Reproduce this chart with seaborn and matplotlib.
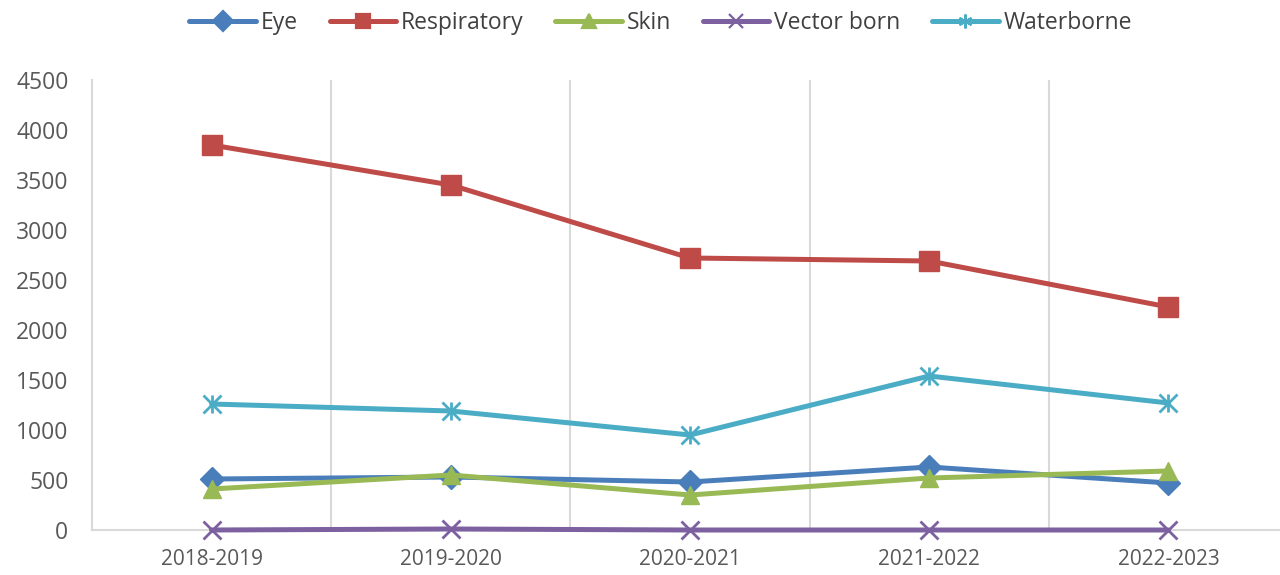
import matplotlib
matplotlib.use("Agg")
import matplotlib.pyplot as plt
import seaborn as sns
import pandas as pd

years = ["2018-2019", "2019-2020", "2020-2021", "2021-2022", "2022-2023"]
eye = [510, 530, 480, 630, 470]
respiratory = [3850, 3450, 2720, 2690, 2230]
skin = [410, 550, 350, 520, 590]
vector_born = [0, 10, 0, 0, 0]
waterborne = [1260, 1190, 950, 1540, 1270]

series_names = ["Eye", "Respiratory", "Skin", "Vector born", "Waterborne"]
series_values = [eye, respiratory, skin, vector_born, waterborne]
colors = ["#4A7EBB", "#BE4B48", "#98B954", "#7D60A0", "#4BACC6"]
markers = ["D", "s", "^", "x", "x"]
marker_sizes = [12, 14, 13, 13, 13]
y_ticks = [0, 500, 1000, 1500, 2000, 2500, 3000, 3500, 4000, 4500]

sns.set_theme(style="white")
plt.rcParams["font.family"] = ["Open Sans", "DejaVu Sans"]

fig = plt.figure(figsize=(12.8, 5.75), dpi=100)
ax = fig.add_axes([92 / 1280, 1 - 530 / 575, (1288 - 92) / 1280, 450 / 575])

for b in [0.5, 1.5, 2.5, 3.5]:
    ax.axvline(b, color="#D9D9D9", linewidth=1.5, zorder=0)

for name, vals, c, m, ms in zip(series_names, series_values, colors, markers, marker_sizes):
    df = pd.DataFrame({"idx": range(len(years)), "value": vals})
    line_art = m == "x"
    sns.lineplot(
        data=df, x="idx", y="value", color=c, marker=m,
        linewidth=3.6, markersize=ms,
        markeredgewidth=2.0 if line_art else 1.0,
        markerfacecolor=c, markeredgecolor=c,
        ax=ax, clip_on=False, zorder=3,
    )
    if name == "Waterborne":
        # asterisk: the cross gets a vertical stroke through it
        sns.scatterplot(
            data=df, x="idx", y="value", color=c, marker="|",
            s=ms ** 2 * 1.1, linewidth=2.0, ax=ax, zorder=4, clip_on=False,
        )

ax.set_xlim(-0.5, 4.5)
ax.set_ylim(0, 4500)
ax.set_yticks(y_ticks)
ax.set_xticks(range(len(years)))
ax.set_xticklabels(years)
ax.set_xlabel("")
ax.set_ylabel("")

for side in ["top", "right"]:
    ax.spines[side].set_visible(False)
for side in ["left", "bottom"]:
    ax.spines[side].set_color("#D9D9D9")
    ax.spines[side].set_linewidth(1.5)

ax.tick_params(axis="both", length=0, colors="#595959")
ax.tick_params(axis="y", labelsize=16.5, pad=17)
ax.tick_params(axis="x", labelsize=15, pad=14)

star = plt.Line2D([], [], color=colors[4], marker=(6, 2, 0), linewidth=3.6,
                  markersize=10, markeredgewidth=1.6)
handles = [
    plt.Line2D([], [], color=c, marker=m, linewidth=3.6, markersize=10,
               markeredgewidth=1.6, markerfacecolor=c, markeredgecolor=c)
    for c, m in zip(colors[:4], markers[:4])
] + [star]
fig.legend(
    handles, series_names, loc="center", bbox_to_anchor=(0.516, 1 - 23 / 575),
    ncol=5, frameon=False, fontsize=16.5, handlelength=2.9,
    columnspacing=1.4, handletextpad=0.2, labelcolor="#404040",
)

fig.savefig("out.png", dpi=100, facecolor="white")
